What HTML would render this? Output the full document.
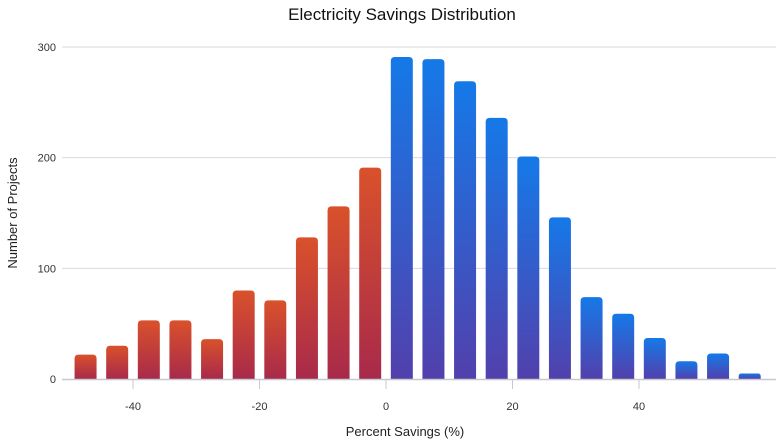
<!DOCTYPE html>
<html><head><meta charset="utf-8"><style>
body{margin:0;background:#fff;font-family:"Liberation Sans",sans-serif}
</style></head><body>
<svg id="chart" width="781" height="443" xmlns="http://www.w3.org/2000/svg">
<defs>
<linearGradient id="gRed" x1="0" y1="0" x2="0" y2="1"><stop offset="0" stop-color="#d9512b"/><stop offset="1" stop-color="#a82a4a"/></linearGradient>
<linearGradient id="gBlue" x1="0" y1="0" x2="0" y2="1"><stop offset="0" stop-color="#1579e8"/><stop offset="1" stop-color="#5240ac"/></linearGradient>
</defs>
<text x="402" y="20" text-anchor="middle" font-size="17" fill="#111">Electricity Savings Distribution</text>
<text transform="translate(17,213) rotate(-90)" text-anchor="middle" font-size="13" fill="#222">Number of Projects</text>
<text x="405" y="436" text-anchor="middle" font-size="13" fill="#222">Percent Savings (%)</text>
<g id="grid"></g><g id="bars"></g><g id="axis"></g>
</svg>
<script>
const binCenters=[-47.5,-42.5,-37.5,-32.5,-27.5,-22.5,-17.5,-12.5,-7.5,-2.5,2.5,7.5,12.5,17.5,22.5,27.5,32.5,37.5,42.5,47.5,52.5,57.5];
const counts=[22,30,53,53,36,80,71,128,156,191,291,289,269,236,201,146,74,59,37,16,23,5];
const yTicks=[0,100,200,300];
const xTicks=[-40,-20,0,20,40];
const NS="http://www.w3.org/2000/svg";
const x=v=>386+v*6.325;
const y=v=>379-v*1.1067;
function mk(tag,attrs,parent){const e=document.createElementNS(NS,tag);for(const k in attrs)e.setAttribute(k,attrs[k]);document.getElementById(parent).appendChild(e);return e;}
yTicks.forEach(t=>{
  if(t>0){const l=mk('line',{x1:62,x2:776,y1:y(t),y2:y(t),stroke:'#d8d8e0','stroke-width':1},'grid');
  
  }
  const tx=mk('text',{x:56,y:y(t)+4,'text-anchor':'end','font-size':11,fill:'#333'},'grid');
  tx.textContent=t;
  
  
});
binCenters.forEach((c,i)=>{
  const w=22,top=y(counts[i]),h=379-top;
  const r=Math.min(4,h/2);
  const x0=x(c)-w/2;
  const d=`M${x0},379 V${top+r} Q${x0},${top} ${x0+r},${top} H${x0+w-r} Q${x0+w},${top} ${x0+w},${top+r} V379 Z`;
  const p=mk('path',{d:d,fill:c<0?'url(#gRed)':'url(#gBlue)'},'bars');
  
  
});
const ax=mk('line',{x1:62,x2:776,y1:379.5,y2:379.5,stroke:'#c8c8d0','stroke-width':1.5},'axis');


xTicks.forEach(t=>{
  const tk=mk('line',{x1:x(t),x2:x(t),y1:380,y2:389,stroke:'#c8c8d0','stroke-width':1},'axis');
  
  
  const tx=mk('text',{x:x(t),y:410,'text-anchor':'middle','font-size':11,fill:'#333'},'axis');
  tx.textContent=t;
  
  
});
</script>
</body></html>
